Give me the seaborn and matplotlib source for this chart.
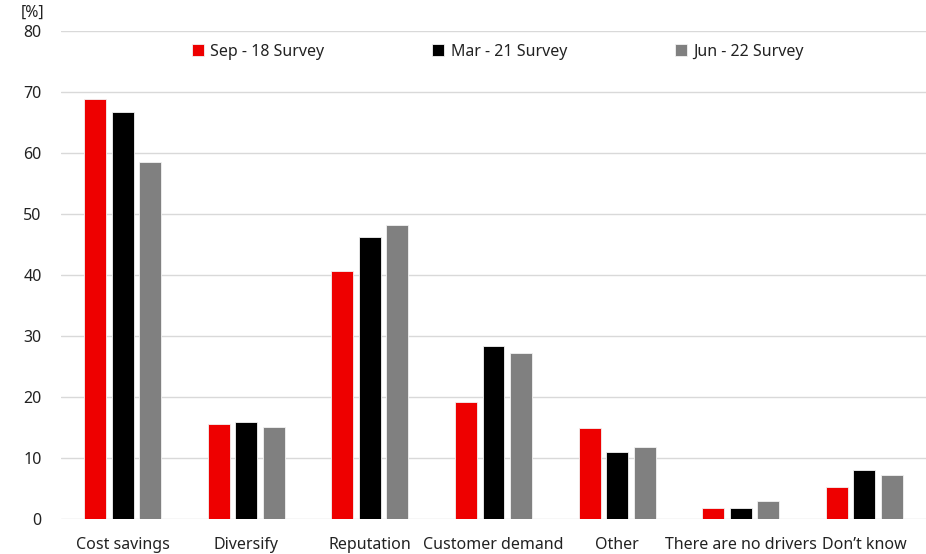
import matplotlib
matplotlib.use("Agg")
import matplotlib.pyplot as plt
import seaborn as sns
import pandas as pd

categories = ["Cost savings", "Diversify", "Reputation", "Customer demand",
              "Other", "There are no drivers", "Don\u2019t know"]
series_names = ["Sep - 18 Survey", "Mar - 21 Survey", "Jun - 22 Survey"]
sep18 = [68.8, 15.6, 40.7, 19.2, 14.9, 1.8, 5.2]
mar21 = [66.7, 15.9, 46.2, 28.4, 11.0, 1.8, 8.0]
jun22 = [58.5, 15.1, 48.2, 27.2, 11.8, 3.0, 7.2]
colors = ["#ee0000", "#000000", "#808080"]
y_ticks = [0, 10, 20, 30, 40, 50, 60, 70, 80]

rows = []
for name, vals in zip(series_names, [sep18, mar21, jun22]):
    for cat, v in zip(categories, vals):
        rows.append({"category": cat, "survey": name, "value": v})
df = pd.DataFrame(rows)

sns.set_theme(style="white")
plt.rcParams["font.family"] = ["Noto Sans", "DejaVu Sans"]

fig = plt.figure(figsize=(9.26, 5.54), dpi=100)
ax = fig.add_axes([61 / 926, 1 - 519 / 554, 1 - 61 / 926, (519 - 31) / 554])

sns.barplot(data=df, x="category", y="value", hue="survey",
            order=categories, hue_order=series_names,
            palette=colors, width=0.667, gap=0.2, saturation=1,
            edgecolor="#f2f2f2", linewidth=0.6, ax=ax)

ax.set_ylim(0, 80)
ax.set_xlim(-0.5, len(categories) - 0.5)
ax.set_yticks(y_ticks)
ax.set_yticklabels([str(t) for t in y_ticks], fontsize=11.5, color="#222222")
ax.tick_params(axis="x", labelsize=11.5, colors="#222222", length=0, pad=13)
ax.tick_params(axis="y", length=0, pad=14)
ax.set_xlabel("")
ax.set_ylabel("")
ax.yaxis.grid(True, color="#d9d9d9", linewidth=1)
ax.set_axisbelow(True)
for s in ax.spines.values():
    s.set_visible(False)

ax.text(-0.046, 1.02, "[%]", transform=ax.transAxes, fontsize=11.5,
        color="#222222", ha="left", va="bottom")

leg = ax.legend(loc="upper center", bbox_to_anchor=(0.505, 1.003), ncol=3,
                frameon=False, fontsize=11.5, handlelength=0.75,
                handleheight=0.75, handletextpad=0.4, columnspacing=6.75)
for t in leg.get_texts():
    t.set_color("#222222")

fig.savefig("out.png", dpi=100)
